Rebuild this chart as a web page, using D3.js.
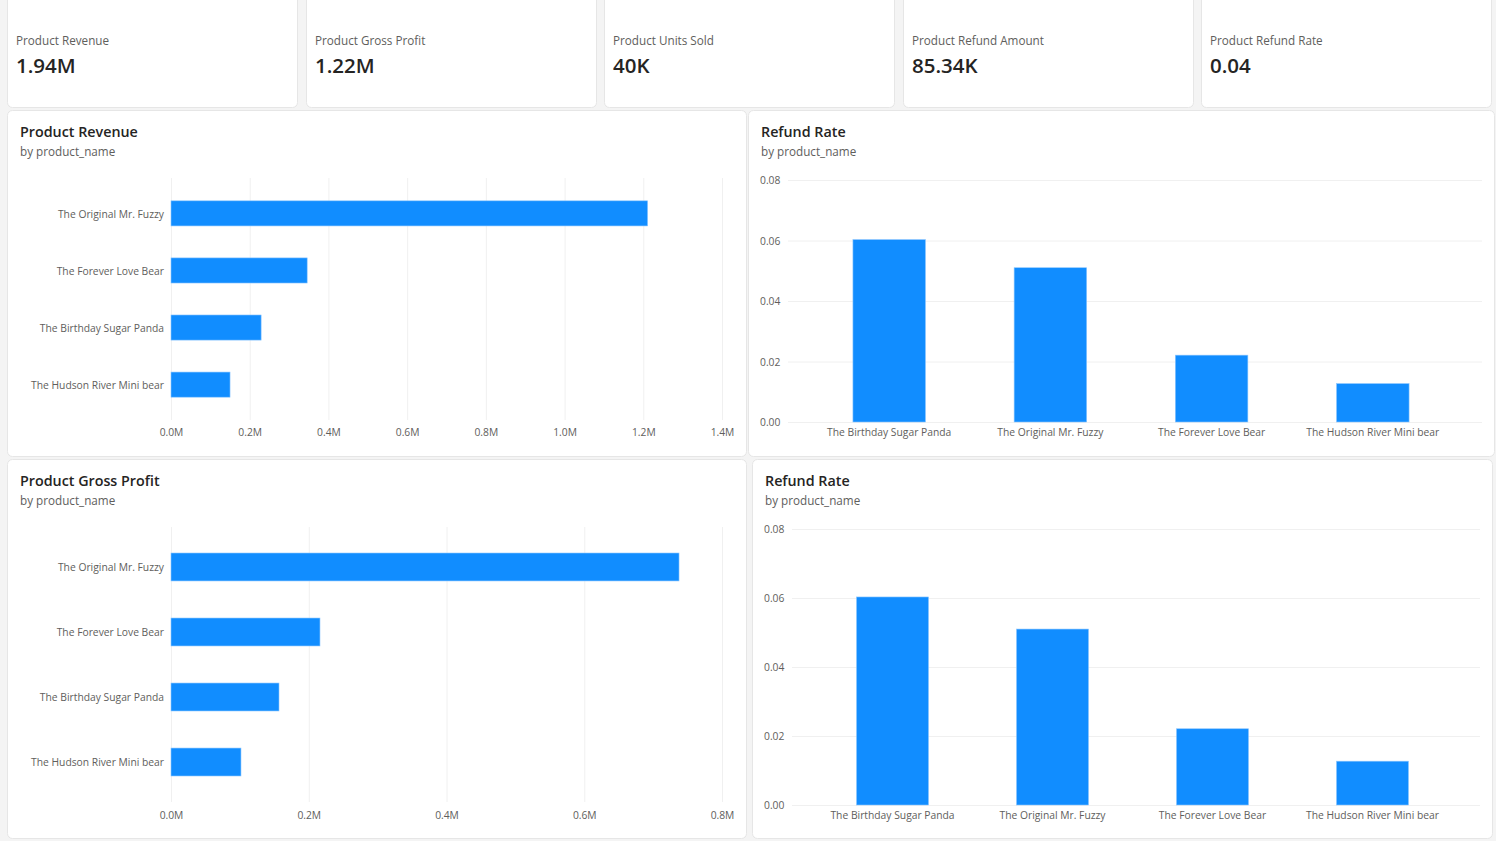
<!DOCTYPE html>
<html>
<head>
<meta charset="utf-8">
<script src="https://cdn.jsdelivr.net/npm/d3@7"></script>
<style>
  html, body { margin: 0; padding: 0; background: #f4f4f4; }
  svg { display: block; font-family: "Segoe UI", "Open Sans", "Noto Sans", sans-serif; }
</style>
</head>
<body>
<svg id="dash" width="1496" height="841"></svg>
<script>
// ---------- data ----------
const kpiLabels = ["Product Revenue", "Product Gross Profit", "Product Units Sold", "Product Refund Amount", "Product Refund Rate"];
const kpiValues = ["1.94M", "1.22M", "40K", "85.34K", "0.04"];

const revenueProducts = ["The Original Mr. Fuzzy", "The Forever Love Bear", "The Birthday Sugar Panda", "The Hudson River Mini bear"];
const revenueValues = [1211000, 346000, 229000, 150000];
const revenueTicks = [0, 200000, 400000, 600000, 800000, 1000000, 1200000, 1400000];

const profitProducts = ["The Original Mr. Fuzzy", "The Forever Love Bear", "The Birthday Sugar Panda", "The Hudson River Mini bear"];
const profitValues = [737600, 216300, 156800, 101600];
const profitTicks = [0, 200000, 400000, 600000, 800000];

const refundProducts = ["The Birthday Sugar Panda", "The Original Mr. Fuzzy", "The Forever Love Bear", "The Hudson River Mini bear"];
const refundRates = [0.0603, 0.0510, 0.0221, 0.0127];
const refundTicks = [0, 0.02, 0.04, 0.06, 0.08];

const BLUE = "#118dff";
const DARK = "#252423";
const GREY = "#605e5c";
const GRID = "#f0f0f0";

const svg = d3.select("#dash");

function card(x, y, w, h) {
  svg.append("rect")
    .attr("x", x + 0.5).attr("y", y + 0.5)
    .attr("width", w).attr("height", h)
    .attr("rx", 5)
    .attr("fill", "#fff")
    .attr("stroke", "#e6e6e6");
}

// ---------- KPI cards ----------
const kpiX = [7, 306, 604, 903, 1201];
kpiLabels.forEach((lab, i) => {
  card(kpiX[i], -6, 290, 113);
  svg.append("text")
    .attr("x", kpiX[i] + 9).attr("y", 45)
    .attr("font-size", 11.7).attr("fill", GREY)
    .text(lab);
  svg.append("text")
    .attr("x", kpiX[i] + 9).attr("y", 73)
    .attr("font-size", 20.5).attr("font-weight", 600).attr("fill", DARK)
    .text(kpiValues[i]);
});

function panelTitle(x, y, title) {
  svg.append("text")
    .attr("x", x).attr("y", y)
    .attr("font-size", 14.3).attr("font-weight", 600).attr("fill", DARK)
    .text(title);
  svg.append("text")
    .attr("x", x).attr("y", y + 19)
    .attr("font-size", 11.7).attr("fill", GREY)
    .text("by product_name");
}

function styleAxis(a) {
  a.attr("font-family", null).attr("font-size", null);
  a.select(".domain").remove();
  a.selectAll("text").attr("font-size", 10.3).attr("fill", GREY);
}

// ---------- horizontal bar chart ----------
function hbar(opts) {
  const x = d3.scaleLinear().domain([0, d3.max(opts.ticks)]).range([171, 722]);
  const y = d3.scaleBand().domain(opts.cats).range(opts.yRange)
    .paddingInner(opts.pi).paddingOuter(opts.po);

  const g = svg.append("g");

  // gridlines
  g.selectAll(".grid").data(opts.ticks).enter().append("line")
    .attr("x1", d => x(d) + 0.5).attr("x2", d => x(d) + 0.5)
    .attr("y1", opts.yRange[0]).attr("y2", opts.yRange[1])
    .attr("stroke", GRID);

  // bottom axis labels
  const ax = g.append("g")
    .attr("transform", `translate(0,${opts.yRange[1]})`)
    .call(d3.axisBottom(x).tickValues(opts.ticks).tickSize(0).tickPadding(opts.tickPad)
      .tickFormat(d => d3.format(".1f")(d / 1e6) + "M"));
  styleAxis(ax);

  // left axis labels
  const ay = g.append("g")
    .attr("transform", "translate(171,1)")
    .call(d3.axisLeft(y).tickSize(0).tickPadding(7));
  styleAxis(ay);

  g.selectAll(".bar").data(opts.values).enter().append("rect")
    .attr("x", x(0))
    .attr("y", (d, i) => y(opts.cats[i]))
    .attr("width", d => x(d) - x(0))
    .attr("height", y.bandwidth())
    .attr("fill", BLUE)
    .attr("stroke", "#8cc6ff").attr("stroke-width", 0.6);
}

// ---------- vertical bar chart ----------
function vbar(opts) {
  const y = d3.scaleLinear().domain([0, d3.max(opts.ticks)]).range(opts.yRange);
  const x = d3.scaleBand().domain(opts.cats).range(opts.xRange)
    .paddingInner(0.55).paddingOuter(opts.po);

  const g = svg.append("g");

  g.selectAll(".grid").data(opts.ticks).enter().append("line")
    .attr("x1", opts.gridX[0]).attr("x2", opts.gridX[1])
    .attr("y1", d => y(d) + 0.5).attr("y2", d => y(d) + 0.5)
    .attr("stroke", GRID);

  g.selectAll(".ytick").data(opts.ticks).enter().append("text")
    .attr("x", opts.labelX).attr("y", d => y(d) + 4)
    .attr("font-size", 10.3).attr("fill", GREY)
    .text(d => d3.format(".2f")(d));

  g.selectAll(".bar").data(opts.values).enter().append("rect")
    .attr("x", (d, i) => x(opts.cats[i]))
    .attr("y", d => y(d))
    .attr("width", x.bandwidth())
    .attr("height", d => y(0) - y(d))
    .attr("fill", BLUE)
    .attr("stroke", "#8cc6ff").attr("stroke-width", 0.6);

  const ax = g.append("g")
    .attr("transform", `translate(0,${opts.yRange[0]})`)
    .call(d3.axisBottom(x).tickSize(0).tickPadding(7));
  styleAxis(ax);
}

// ---------- panels ----------
card(7, 110, 739, 346);
panelTitle(20, 137, "Product Revenue");
hbar({ cats: revenueProducts, values: revenueValues, ticks: revenueTicks,
       yRange: [178, 420], pi: 0.56, po: 0.4, tickPad: 9 });

card(748, 110, 746, 346);
panelTitle(761, 137, "Refund Rate");
vbar({ cats: refundProducts, values: refundRates, ticks: refundTicks,
       yRange: [422, 180], xRange: [782, 1480], po: 0.44,
       gridX: [788, 1482], labelX: 760 });

card(7, 459, 739, 379);
panelTitle(20, 486, "Product Gross Profit");
hbar({ cats: profitProducts, values: profitValues, ticks: profitTicks,
       yRange: [527, 802], pi: 0.57, po: 0.4, tickPad: 10 });

card(752, 459, 740, 379);
panelTitle(765, 486, "Refund Rate");
vbar({ cats: refundProducts, values: refundRates, ticks: refundTicks,
       yRange: [805, 529], xRange: [785, 1480], po: 0.447,
       gridX: [792, 1480], labelX: 764 });
</script>
</body>
</html>
